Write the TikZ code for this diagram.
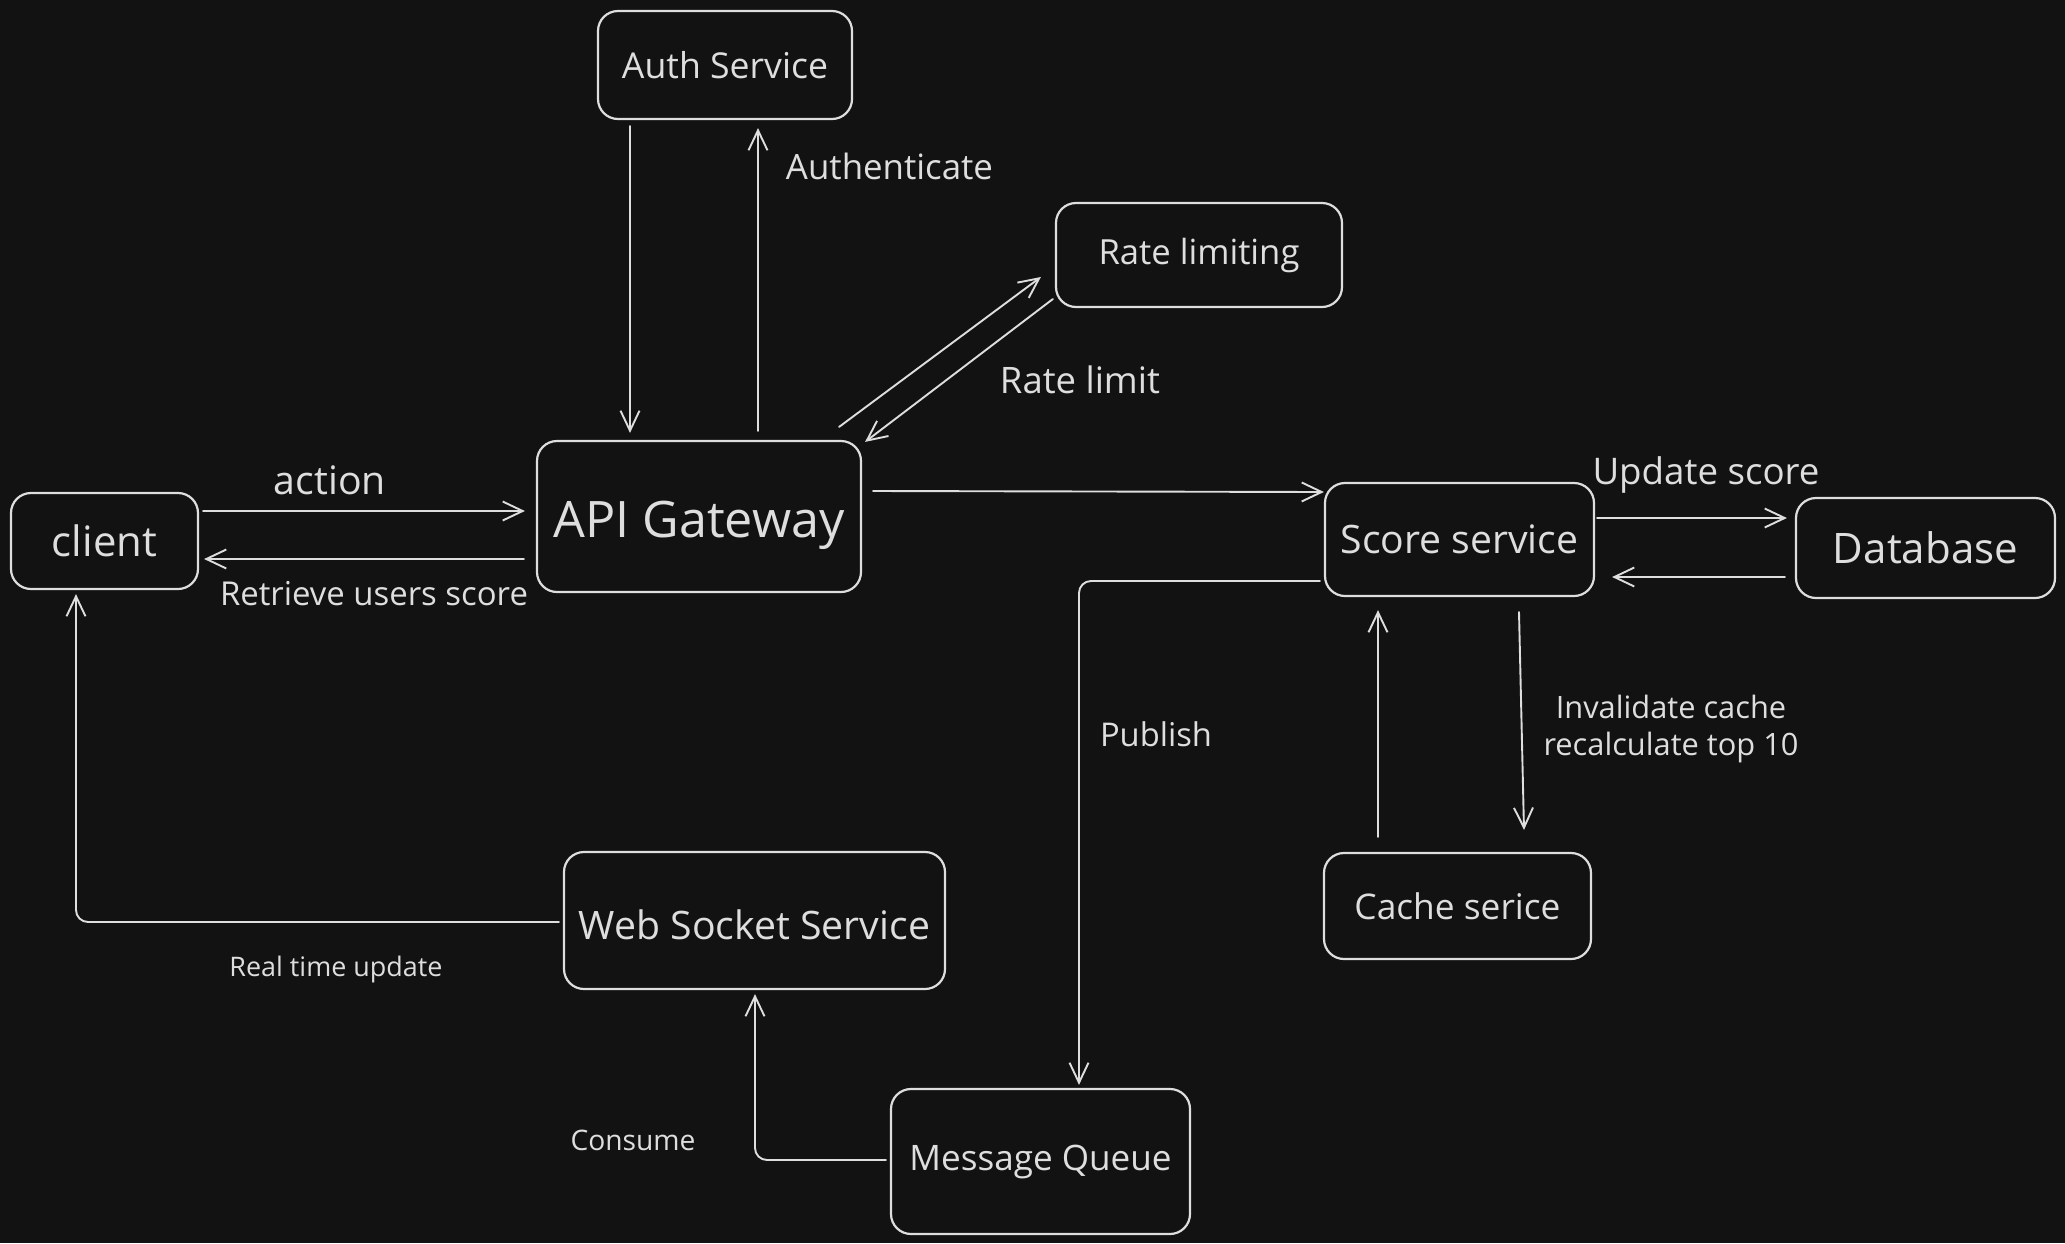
\documentclass[tikz,border=0pt]{standalone}
\usepackage{graphicx}
\usepackage{fontspec}
\setmainfont{Open Sans}
\usetikzlibrary{arrows.meta,calc}
\definecolor{bg}{HTML}{121212}
\definecolor{ink}{HTML}{DEDEDE}
\newcommand\fitw[2]{\resizebox{#1pt}{!}{#2}}
\newcommand\lowr[2]{\raisebox{-#1pt}[\height][\depth]{#2}}
\begin{document}
\begin{tikzpicture}[x=1pt,y=-1pt,
  box/.style={draw=ink, line width=2.2pt, rounded corners=20pt, text=ink, inner sep=0pt},
  lbl/.style={text=ink, inner sep=0pt},
  conn/.style={draw=ink, line width=1.9pt, line cap=round, line join=round,
    -{Straight Barb[length=20pt,width=19pt]}},
]
\fill[bg] (0,0) rectangle (2065,1243);
\useasboundingbox (0,0) rectangle (2065,1243);

% nodes
\node[box, minimum width=254pt, minimum height=108pt] (auth) at (725,65) {\fitw{206}{Auth Service}};
\node[box, minimum width=286pt, minimum height=104pt] (rate) at (1199,255) {\fitw{201}{Rate limiting}};
\node[box, minimum width=187pt, minimum height=96pt] (client) at (104.5,541) {\fitw{105}{client}};
\node[box, minimum width=324pt, minimum height=151pt] (api) at (699,516.5) {\lowr{9}{\fitw{291}{API Gateway}}};
\node[box, minimum width=269pt, minimum height=113pt] (score) at (1459.5,539.5) {\fitw{238}{Score service}};
\node[box, minimum width=259pt, minimum height=100pt] (db) at (1925.5,548) {\fitw{185}{Database}};
\node[box, minimum width=267pt, minimum height=106pt] (cache) at (1457.5,906) {\fitw{206}{Cache serice}};
\node[box, minimum width=381pt, minimum height=137pt] (ws) at (754.5,920.5) {\lowr{4}{\fitw{351}{Web Socket Service}}};
\node[box, minimum width=299pt, minimum height=145pt] (mq) at (1040.5,1161.5) {\fitw{262}{Message Queue}};

% connectors
\draw[conn] ($(auth.south)+(-95,6)$) -- ($(api.north)+(-69,-7)$);
\draw[conn] ($(api.north)+(59,-9)$) -- ($(auth.south)+(33,8)$);
\draw[conn] ($(api.north east)+(-23,-13)$) -- ($(rate.west)+(-14,22)$);
\draw[conn] ($(rate.west)+(-2,44)$) -- ($(api.north east)+(3,2)$);
\draw[conn] ($(client.east)+(4,-30)$) -- ($(api.west)+(-11,-5.5)$);
\draw[conn] ($(api.west)+(-12,42.5)$) -- ($(client.east)+(5,18)$);
\draw[conn] ($(api.east)+(11,-25.5)$) -- ($(score.west)+(0,-47.5)$);
\draw[conn] ($(score.east)+(2,-21.5)$) -- ($(db.west)+(-8,-30)$);
\draw[conn] ($(db.west)+(-10,29)$) -- ($(score.east)+(17,37.5)$);
\draw[conn, rounded corners=12pt] ($(score.west)+(-4,41.5)$) -| ($(mq.north)+(38.5,-3)$);
\draw[conn, rounded corners=12pt] ($(mq.west)+(-4,-1.5)$) -| ($(ws.south)+(0.5,4)$);
\draw[conn, rounded corners=12pt] ($(ws.west)+(-4,1.5)$) -| ($(client.south)+(-28.5,4)$);
\draw[conn] ($(cache.north)+(-79.5,-15)$) -- ($(score.south)+(-81.5,13)$);
\draw[conn] ($(score.south)+(59.5,15)$) -- ($(cache.north)+(66.5,-22)$);

% labels
\node[lbl] (lauth) at (889.5,166) {\fitw{207}{Authenticate}};
\node[lbl] (laction) at (330,480) {\fitw{112}{action}};
\node[lbl] (lret) at (374,594) {\fitw{308}{Retrieve users score}};
\node[lbl] (lrate) at (1080,380) {\fitw{160}{Rate limit}};
\node[lbl] (lupd) at (1706,475) {\fitw{227}{Update score}};
\node[lbl] (lpub) at (1156,734) {\fitw{112}{Publish}};
\node[lbl] (lcons) at (633,1140) {\fitw{125}{Consume}};
\node[lbl] (lreal) at (336,969) {\fitw{213}{Real time update}};
\node[lbl] (linv) at (1671,730) {\fitw{255}{\begin{tabular}{@{}c@{}}Invalidate cache\\recalculate top 10\end{tabular}}};
\end{tikzpicture}
\end{document}
